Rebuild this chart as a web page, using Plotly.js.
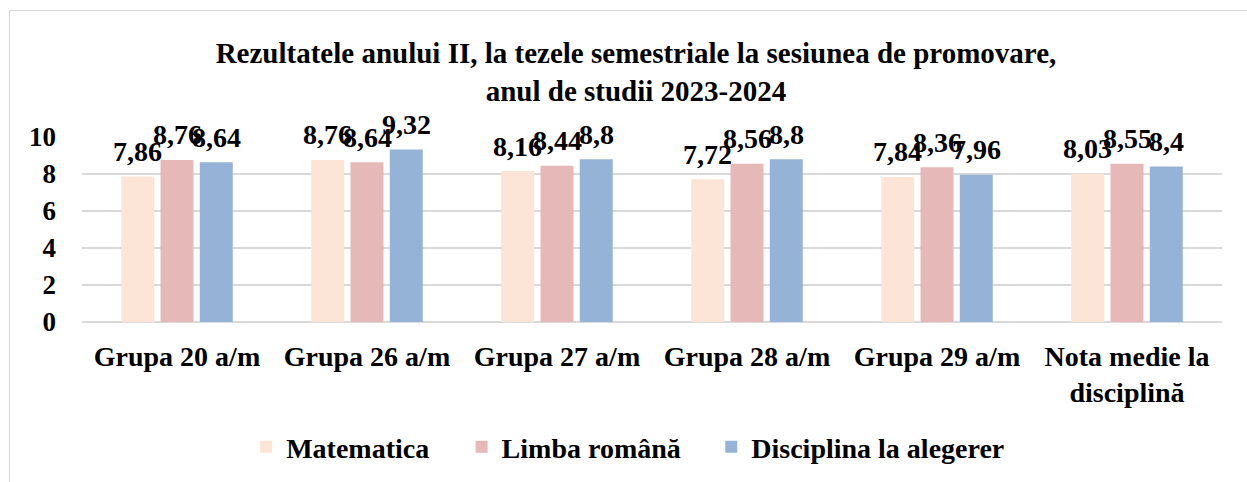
<!DOCTYPE html>
<html>
<head>
<meta charset="utf-8">
<script src="https://cdn.plot.ly/plotly-3.0.1.min.js"></script>
<style>
  html, body { margin: 0; padding: 0; background: #fff; }
  #wrap { position: relative; width: 1247px; height: 482px; overflow: hidden; }
  #chart { width: 1247px; height: 482px; }
  #frame { position: absolute; left: 9px; top: 10px; width: 1260px; height: 490px;
           border: 1.5px solid #d9d9d9; pointer-events: none; box-sizing: border-box; }
</style>
</head>
<body>
<div id="wrap">
  <div id="chart"></div>
  <div id="frame"></div>
</div>
<script>
const categories = ["Grupa 20 a/m", "Grupa 26 a/m", "Grupa 27 a/m", "Grupa 28 a/m", "Grupa 29 a/m", "Nota medie la<br>disciplină"];
const matematica = [7.86, 8.76, 8.16, 7.72, 7.84, 8.03];
const limbaRomana = [8.76, 8.64, 8.44, 8.56, 8.36, 8.55];
const disciplina = [8.64, 9.32, 8.8, 8.8, 7.96, 8.4];
const seriesNames = ["Matematica", "Limba română", "Disciplina la alegerer"];
const colors = ["#FCE4D6", "#E6B8B7", "#95B3D7"];
const yTicks = [0, 2, 4, 6, 8, 10];

const fmt = v => String(v).replace('.', ',');
const font = "Liberation Serif, Times New Roman, serif";

const W = 1247, H = 482;
const margin = { l: 82, r: 25, t: 137, b: 159 };
const bargap = 0.38, bargroupgap = 0.16;
const plotW = W - margin.l - margin.r;
const slot = plotW / categories.length * (1 - bargap) / 3;

const allSeries = [matematica, limbaRomana, disciplina];
const legendIds = ['legend', 'legend2', 'legend3'];

const traces = allSeries.map((vals, i) => ({
  type: 'bar',
  name: seriesNames[i],
  x: categories,
  y: vals,
  marker: { color: colors[i] },
  legend: legendIds[i],
  hoverinfo: 'none'
}));

const annotations = [];
allSeries.forEach((vals, i) => {
  vals.forEach((v, j) => {
    annotations.push({
      x: categories[j], y: v, xref: 'x', yref: 'y',
      text: '<b>' + fmt(v) + '</b>',
      showarrow: false,
      xshift: (i - 1) * slot,
      yshift: 25,
      yanchor: 'middle', xanchor: 'center',
      font: { family: font, size: 28, color: '#000' }
    });
  });
});

const legendFont = { family: font, size: 28, color: '#000', weight: 'bold' };
const legendBase = { orientation: 'h', yanchor: 'middle', y: -0.667, xanchor: 'left', font: legendFont, bgcolor: 'rgba(0,0,0,0)' };

const layout = {
  width: W, height: H,
  margin: margin,
  paper_bgcolor: '#fff', plot_bgcolor: '#fff',
  font: { family: font, color: '#000', weight: 'bold' },
  title: {
    text: "<b>Rezultatele anului II, la tezele semestriale la sesiunea de promovare,<br>anul de studii 2023-2024</b>",
    font: { family: font, size: 29, color: '#000' },
    x: 0.51, xanchor: 'center', xref: 'container',
    y: 1 - 63 / H, yanchor: 'middle', yref: 'container'
  },
  barmode: 'group',
  bargap: bargap,
  bargroupgap: bargroupgap,
  xaxis: {
    tickfont: { family: font, size: 28, color: '#000', weight: 'bold' },
    showline: false, ticks: '', showgrid: false, ticklabelstandoff: 15
  },
  yaxis: {
    range: [0, 10],
    tickvals: yTicks,
    tickfont: { family: font, size: 27, color: '#000', weight: 'bold' },
    showgrid: true, gridcolor: '#d9d9d9', gridwidth: 1.5,
    zeroline: true, zerolinecolor: '#d9d9d9', zerolinewidth: 2,
    showline: false, ticks: '', ticklabelstandoff: 25
  },
  showlegend: true,
  legend: Object.assign({}, legendBase, { x: 0.144 }),
  legend2: Object.assign({}, legendBase, { x: 0.333 }),
  legend3: Object.assign({}, legendBase, { x: 0.552 }),
  annotations: annotations
};

Plotly.newPlot('chart', traces, layout, { displayModeBar: false, staticPlot: true });
</script>
</body>
</html>
